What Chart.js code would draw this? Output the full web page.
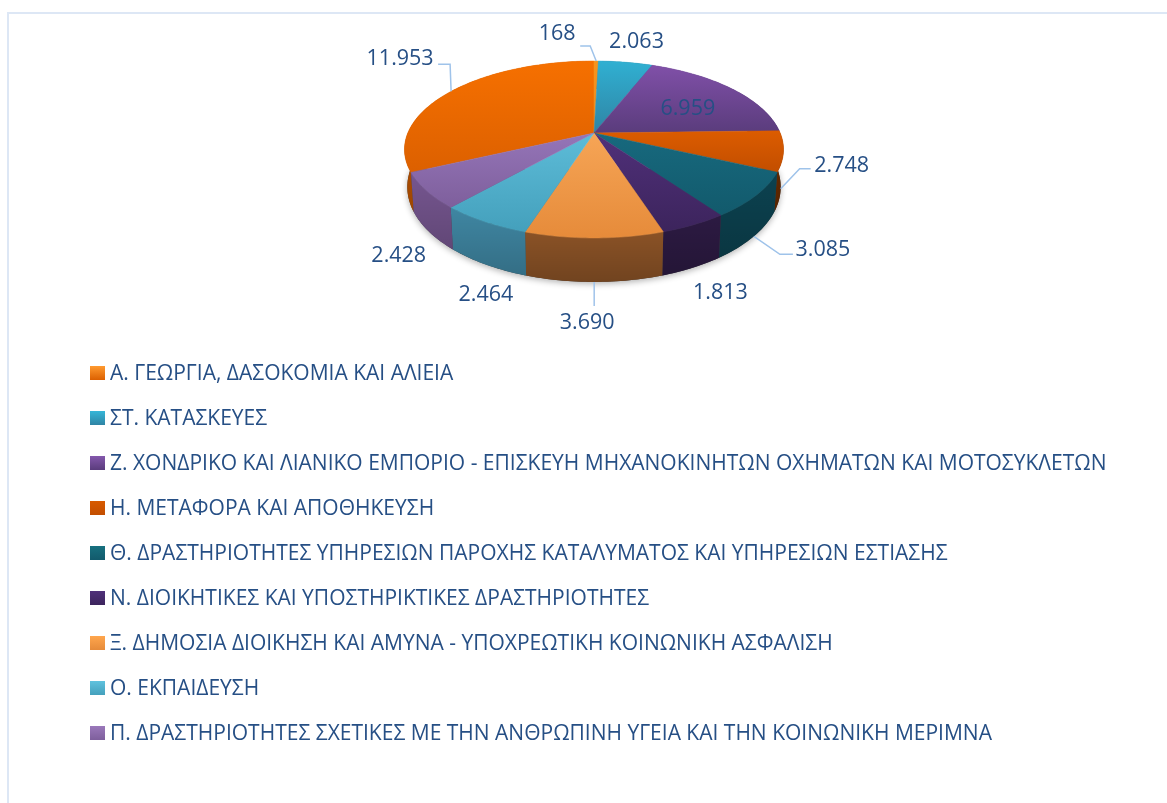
<!DOCTYPE html>
<html>
<head>
  <meta charset="utf-8">
  <title>Απασχόληση ανά τομέα</title>
  <script src="https://cdn.jsdelivr.net/npm/chart.js"></script>
  <style>
    body { margin: 0; background: #fff; }
    .frame {
      position: absolute;
      left: 7px;
      top: 12px;
      right: 0;
      bottom: 0;
      border-top: 2px solid #dde7f5;
      border-left: 2px solid #dde7f5;
    }
    canvas { position: absolute; left: 0; top: 0; }
  </style>
</head>
<body>
  <div class="frame"></div>
  <canvas id="pie" width="1167" height="803"></canvas>

  <script>
    const categories = [
      'Α. ΓΕΩΡΓΙΑ, ΔΑΣΟΚΟΜΙΑ ΚΑΙ ΑΛΙΕΙΑ',
      '',
      'ΣΤ. ΚΑΤΑΣΚΕΥΕΣ',
      'Ζ. ΧΟΝΔΡΙΚΟ ΚΑΙ ΛΙΑΝΙΚΟ ΕΜΠΟΡΙΟ - ΕΠΙΣΚΕΥΗ ΜΗΧΑΝΟΚΙΝΗΤΩΝ ΟΧΗΜΑΤΩΝ ΚΑΙ ΜΟΤΟΣΥΚΛΕΤΩΝ',
      'Η. ΜΕΤΑΦΟΡΑ ΚΑΙ ΑΠΟΘΗΚΕΥΣΗ',
      'Θ. ΔΡΑΣΤΗΡΙΟΤΗΤΕΣ ΥΠΗΡΕΣΙΩΝ ΠΑΡΟΧΗΣ ΚΑΤΑΛΥΜΑΤΟΣ ΚΑΙ ΥΠΗΡΕΣΙΩΝ ΕΣΤΙΑΣΗΣ',
      'Ν. ΔΙΟΙΚΗΤΙΚΕΣ ΚΑΙ ΥΠΟΣΤΗΡΙΚΤΙΚΕΣ ΔΡΑΣΤΗΡΙΟΤΗΤΕΣ',
      'Ξ. ΔΗΜΟΣΙΑ ΔΙΟΙΚΗΣΗ ΚΑΙ ΑΜΥΝΑ - ΥΠΟΧΡΕΩΤΙΚΗ ΚΟΙΝΩΝΙΚΗ ΑΣΦΑΛΙΣΗ',
      'Ο. ΕΚΠΑΙΔΕΥΣΗ',
      'Π. ΔΡΑΣΤΗΡΙΟΤΗΤΕΣ ΣΧΕΤΙΚΕΣ ΜΕ ΤΗΝ ΑΝΘΡΩΠΙΝΗ ΥΓΕΙΑ ΚΑΙ ΤΗΝ ΚΟΙΝΩΝΙΚΗ ΜΕΡΙΜΝΑ'
    ];
    const values = [11953, 168, 2063, 6959, 2748, 3085, 1813, 3690, 2464, 2428];
    const valueLabels = ['11.953', '168', '2.063', '6.959', '2.748', '3.085', '1.813', '3.690', '2.464', '2.428'];

    // colours: top of the slice, bottom of the slice, side wall
    const topLight = ['#f67000', '#f7941d', '#30b0d2', '#8050a8', '#dc5c00', '#17697e', '#50307a', '#f6a556', '#5dbcd8', '#9575b8'];
    const topDark  = ['#dc6000', '#e88a20', '#2f84a4', '#5a3c7c', '#c24e00', '#125a6c', '#3c245c', '#e68b3a', '#44a0bc', '#7e5f9c'];
    const wallColors = ['#c25600', '#b06010', '#1f6a85', '#4a3068', '#6a2c00', '#0c4250', '#2c1a42', '#8a5226', '#3f86a2', '#765690'];
    // swatches in the legend use their own, lighter top colour
    const swatchLight = ['#ff9a30', '#f7941d', '#35b6d8', '#8458ac', '#d85a00', '#17707f', '#50307a', '#ffa64d', '#5fc2de', '#9a78ba'];

    // offsets from the slice's anchor on the rim: label centre, leader elbow, leader end
    const labelOffsets = [[-51, -32], [-39, -27], [11, -20], [-44, 20], [61, -23], [69, 14], [28, 25], [-7, 41], [0, 30], [-30, 24]];
    const leaders = [[-1, -27, -13, -27], [-6, -15, -16, -15], null, null, [19, -20, 30, -20], [26, 18, 39, 18], null, [0, 24, 0, 24], null, null];

    const textColor = '#264f85';
    const legendFont = { family: '"Open Sans"', size: 21 };
    const legendPadding = 24;

    // perspective view of the pie: centre of the disc, radii and tilt
    const cx = 594, cy = 133, radX = 186.2, radY = 85.4, tilt = 0.1864;

    function project(angle) {
      const u = Math.cos(angle), v = Math.sin(angle);
      const w = 1 - tilt * v;
      return { x: cx + radX * u / w, y: cy + radY * v / w, v: v };
    }

    function below(p) {
      return { x: cx + (p.x - cx) * 0.985, y: p.y + 36 + 8 * p.v };
    }

    function rimPoints(start, end) {
      const pts = [];
      const steps = Math.max(2, Math.ceil((end - start) / 0.02));
      for (let i = 0; i <= steps; i++) {
        pts.push(project(start + (end - start) * i / steps));
      }
      return pts;
    }

    const pie3d = {
      id: 'pie3d',
      beforeDatasetsDraw(chart) {
        const ctx = chart.ctx;
        const arcs = chart.getDatasetMeta(0).data;

        // soft shadow below the pie
        ctx.save();
        ctx.shadowColor = 'rgba(0,0,0,0.3)';
        ctx.shadowBlur = 6;
        ctx.shadowOffsetY = 2;
        ctx.fillStyle = '#444';
        ctx.beginPath();
        rimPoints(0, Math.PI).map(below).forEach((p, i) => i ? ctx.lineTo(p.x, p.y) : ctx.moveTo(p.x, p.y));
        ctx.closePath();
        ctx.fill();
        ctx.restore();

        // walls first, the top faces paint over whatever is behind
        arcs.forEach((arc, i) => {
          const rim = rimPoints(arc.startAngle, arc.endAngle);
          const low = rim.map(below).reverse();
          const ys = rim.concat(low).map(p => p.y);
          const shade = ctx.createLinearGradient(0, Math.min(...ys), 0, Math.max(...ys));
          shade.addColorStop(0, 'rgba(0,0,0,0)');
          shade.addColorStop(1, 'rgba(0,0,0,0.18)');
          ctx.beginPath();
          rim.concat(low).forEach((p, j) => j ? ctx.lineTo(p.x, p.y) : ctx.moveTo(p.x, p.y));
          ctx.closePath();
          ctx.fillStyle = wallColors[i];
          ctx.fill();
          ctx.fillStyle = shade;
          ctx.fill();
        });

        arcs.forEach((arc, i) => {
          const rim = rimPoints(arc.startAngle, arc.endAngle);
          const ys = rim.map(p => p.y).concat(cy);
          const grad = ctx.createLinearGradient(0, Math.min(...ys), 0, Math.max(...ys));
          grad.addColorStop(0, topLight[i]);
          grad.addColorStop(1, topDark[i]);
          ctx.fillStyle = grad;
          ctx.strokeStyle = grad;
          ctx.lineWidth = 0.5;
          ctx.beginPath();
          ctx.moveTo(cx, cy);
          rim.forEach(p => ctx.lineTo(p.x, p.y));
          ctx.closePath();
          ctx.fill();
          ctx.stroke();
        });

        // value labels and leader lines
        ctx.font = '21.5px "Open Sans"';
        ctx.textAlign = 'center';
        ctx.textBaseline = 'middle';
        arcs.forEach((arc, i) => {
          const mid = (arc.startAngle + arc.endAngle) / 2;
          const rim = project(mid);
          const anchor = rim.v > 0 ? below(rim) : rim;
          const leader = leaders[i];
          if (leader) {
            ctx.strokeStyle = '#9fc3ea';
            ctx.lineWidth = 1.5;
            ctx.beginPath();
            ctx.moveTo(anchor.x, anchor.y);
            ctx.lineTo(anchor.x + leader[0], anchor.y + leader[1]);
            ctx.lineTo(anchor.x + leader[2], anchor.y + leader[3]);
            ctx.stroke();
          }
          ctx.fillStyle = textColor;
          ctx.fillText(valueLabels[i], anchor.x + labelOffsets[i][0], anchor.y + labelOffsets[i][1]);
        });
        return false;
      },
      afterLayout(chart) {
        // legend sits under the pie and runs almost the full width
        const legend = chart.legend;
        legend.left = 110 - legendFont.size / 2 - legendPadding;
        legend.top = 374 - legendFont.size / 2 - legendPadding;
        legend.right = chart.width;
        legend.bottom = chart.height;
      },
      afterDraw(chart) {
        // legend swatches carry the same top-to-bottom shading as the slices
        const ctx = chart.ctx;
        chart.legend.legendItems.forEach((item, row) => {
          const y = 366 + row * (legendFont.size + legendPadding);
          const grad = ctx.createLinearGradient(0, y, 0, y + 14);
          grad.addColorStop(0, swatchLight[item.index]);
          grad.addColorStop(1, topDark[item.index]);
          ctx.fillStyle = grad;
          ctx.fillRect(90, y, 15, 14);
        });
      }
    };

    new Chart(document.getElementById('pie'), {
      type: 'pie',
      data: {
        labels: categories,
        datasets: [{ data: values, backgroundColor: topLight }]
      },
      plugins: [pie3d],
      options: {
        responsive: false,
        animation: false,
        rotation: -115.15,
        plugins: {
          tooltip: { enabled: false },
          legend: {
            position: 'left',
            align: 'start',
            labels: {
              boxWidth: 0,
              padding: legendPadding,
              color: textColor,
              font: legendFont,
              filter: item => item.text !== ''
            }
          }
        }
      }
    });
  </script>
</body>
</html>
